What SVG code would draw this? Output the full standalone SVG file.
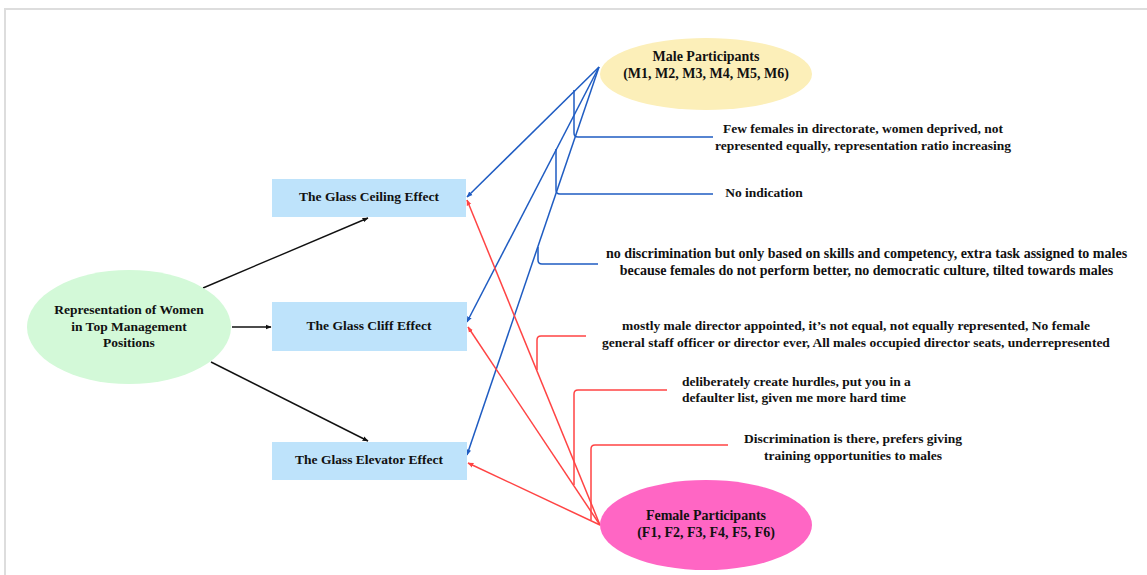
<svg xmlns="http://www.w3.org/2000/svg" width="1147" height="575" viewBox="0 0 1147 575">
<style>
text{font-family:"Liberation Serif","Times New Roman",serif;font-weight:bold;font-size:13.5px;fill:#111;text-anchor:middle}
.big{font-size:14px}
.box{fill:#bee3fb}
.k{stroke:#111;stroke-width:1.4;fill:none}
.b{stroke:#1f5cc2;stroke-width:1.5;fill:none}
.r{stroke:#ff4444;stroke-width:1.5;fill:none}
.brd{stroke:#dddddd;stroke-width:2;fill:none}
</style>
<defs>
<marker id="ak" viewBox="0 0 10 10" refX="9" refY="5" markerWidth="6" markerHeight="6" orient="auto" markerUnits="userSpaceOnUse"><path d="M0,1 L10,5 L0,9 z" fill="#111"/></marker>
<marker id="ab" viewBox="0 0 10 10" refX="9" refY="5" markerWidth="6" markerHeight="6" orient="auto" markerUnits="userSpaceOnUse"><path d="M0,1 L10,5 L0,9 z" fill="#1f5cc2"/></marker>
<marker id="ar" viewBox="0 0 10 10" refX="9" refY="5" markerWidth="6" markerHeight="6" orient="auto" markerUnits="userSpaceOnUse"><path d="M0,1 L10,5 L0,9 z" fill="#ff4444"/></marker>
</defs>
<rect width="1147" height="575" fill="#fff"/>
<path class="brd" d="M5,575 V9 H1147"/>

<g id="connectors">
<path class="k" d="M203,288 L368,218" marker-end="url(#ak)"/>
<path class="k" d="M232,327 L271,327" marker-end="url(#ak)"/>
<path class="k" d="M211,362 L368,441" marker-end="url(#ak)"/>

<path class="b" d="M599,67 L467,197" marker-end="url(#ab)"/>
<path class="b" d="M599,67 L467,322" marker-end="url(#ab)"/>
<path class="b" d="M599,67 L467,455" marker-end="url(#ab)"/>
<path class="b" d="M574,90 V133 Q574,137 578,137 H713"/>
<path class="b" d="M556,149 V190 Q556,194 560,194 H713"/>
<path class="b" d="M538,247 V260 Q538,264 542,264 H598"/>

<path class="r" d="M600,525 L467,200" marker-end="url(#ar)"/>
<path class="r" d="M600,525 L468,327" marker-end="url(#ar)"/>
<path class="r" d="M600,525 L468,463" marker-end="url(#ar)"/>
<path class="r" d="M537,370 V340 Q537,336 541,336 H586"/>
<path class="r" d="M574,485 V394 Q574,390 578,390 H667"/>
<path class="r" d="M591,520 V449 Q591,445 595,445 H728"/>
</g>

<g id="rep">
<ellipse cx="129" cy="327" rx="102" ry="57" fill="#d3f9d8"/>
<text x="129" y="314">Representation of Women</text>
<text x="129" y="331">in Top Management</text>
<text x="129" y="347">Positions</text>
</g>
<g id="ceiling">
<rect class="box" x="272" y="179" width="194" height="38"/>
<text x="369" y="201">The Glass Ceiling Effect</text>
</g>
<g id="cliff">
<rect class="box" x="272" y="302" width="195" height="49"/>
<text x="369" y="330">The Glass Cliff Effect</text>
</g>
<g id="elevator">
<rect class="box" x="272" y="442" width="195" height="38"/>
<text x="369" y="464">The Glass Elevator Effect</text>
</g>
<g id="male">
<ellipse cx="706" cy="74" rx="106" ry="36" fill="#fcefb9"/>
<text class="big" x="706" y="61">Male Participants</text>
<text class="big" x="706" y="78">(M1, M2, M3, M4, M5, M6)</text>
</g>
<g id="female">
<ellipse cx="706" cy="525" rx="106" ry="45" fill="#ff66c4"/>
<text class="big" x="706" y="520">Female Participants</text>
<text class="big" x="706" y="537">(F1, F2, F3, F4, F5, F6)</text>
</g>
<g id="m1">
<text x="863" y="133">Few females in directorate, women deprived, not</text>
<text x="863" y="150">represented equally, representation ratio increasing</text>
</g>
<g id="m2">
<text x="764" y="197">No indication</text>
</g>
<g id="m3">
<text class="big" x="866.5" y="258">no discrimination but only based on skills and competency, extra task assigned to males</text>
<text class="big" x="866.5" y="275">because females do not perform better, no democratic culture, tilted towards males</text>
</g>
<g id="f1">
<text x="856" y="330">mostly male director appointed, it’s not equal, not equally represented, No female</text>
<text x="856" y="347">general staff officer or director ever, All males occupied director seats, underrepresented</text>
</g>
<g id="f2">
<text x="682" y="386" style="text-anchor:start">deliberately create hurdles, put you in a</text>
<text x="682" y="402" style="text-anchor:start">defaulter list, given me more hard time</text>
</g>
<g id="f3">
<text x="853" y="443">Discrimination is there, prefers giving</text>
<text x="853" y="460">training opportunities to males</text>
</g>
</svg>
